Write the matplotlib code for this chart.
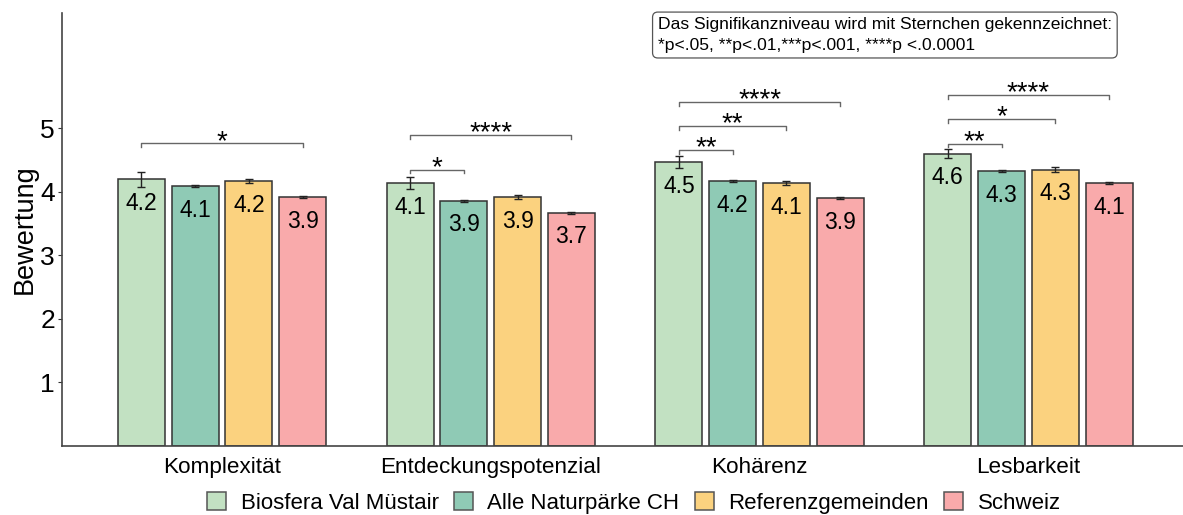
import matplotlib
matplotlib.use('Agg')
import matplotlib.pyplot as plt
import numpy as np

plt.rcParams['font.family'] = ['Liberation Sans', 'DejaVu Sans']

categories = ['Komplexität', 'Entdeckungspotenzial', 'Kohärenz', 'Lesbarkeit']
groups = ['Biosfera Val Müstair', 'Alle Naturpärke CH', 'Referenzgemeinden', 'Schweiz']
colors = ['#c2e1c2', '#8fcab5', '#fbd27f', '#f9aaab']

# mean values per group (rows) and category (columns)
means = [
    [4.20, 4.14, 4.47, 4.60],
    [4.09, 3.86, 4.17, 4.33],
    [4.17, 3.92, 4.14, 4.35],
    [3.92, 3.67, 3.90, 4.14],
]
labels = [
    ['4.2', '4.1', '4.5', '4.6'],
    ['4.1', '3.9', '4.2', '4.3'],
    ['4.2', '3.9', '4.1', '4.3'],
    ['3.9', '3.7', '3.9', '4.1'],
]
errors = [
    [0.12, 0.10, 0.10, 0.07],
    [0.015, 0.015, 0.015, 0.015],
    [0.035, 0.035, 0.035, 0.035],
    [0.015, 0.015, 0.015, 0.015],
]

# significance brackets: (category index, group a, group b, height, stars)
brackets = [
    (0, 0, 3, 4.77, '*'),
    (1, 0, 1, 4.35, '*'),
    (1, 0, 3, 4.90, '****'),
    (2, 0, 1, 4.66, '**'),
    (2, 0, 2, 5.04, '**'),
    (2, 0, 3, 5.42, '****'),
    (3, 0, 1, 4.76, '**'),
    (3, 0, 2, 5.15, '*'),
    (3, 0, 3, 5.53, '****'),
]

note = ('Das Signifikanzniveau wird mit Sternchen gekennzeichnet:\n'
        '*p<.05, **p<.01,***p<.001, ****p <.0.0001')

fig = plt.figure(figsize=(11.83, 5.15), dpi=100)
ax = fig.add_axes([62 / 1183, 1 - 445.5 / 515, (1183 - 62) / 1183, (445.5 - 13) / 515])

x = np.arange(1, len(categories) + 1)
offsets = [-0.3, -0.1, 0.1, 0.3]
width = 0.175

for i, grp in enumerate(groups):
    xs = x + offsets[i]
    ax.bar(xs, means[i], width=width, color=colors[i], edgecolor='#333333',
           linewidth=1.1, label=grp, zorder=2)
    ax.errorbar(xs, means[i], yerr=errors[i], fmt='none', ecolor='#222222',
                elinewidth=1.0, capsize=3, capthick=1.0, zorder=3)
    for xi, m, lab in zip(xs, means[i], labels[i]):
        ax.text(xi, m - 0.38, lab, ha='center', va='center', fontsize=16.5, zorder=4)

tip = 0.06
for ci, a, b, h, stars in brackets:
    x0 = x[ci] + offsets[a]
    x1 = x[ci] + offsets[b]
    ax.plot([x0, x0, x1, x1], [h - tip, h, h, h - tip], color='#666666', lw=1.0)
    ax.text((x0 + x1) / 2, h - 0.09, stars, ha='center', va='baseline', fontsize=20)

ax.text(0.5315, 0.990, note, transform=ax.transAxes, ha='left', va='top',
        fontsize=12.6, linespacing=1.45,
        bbox=dict(boxstyle='round,pad=0.3,rounding_size=0.3', facecolor='white',
                  edgecolor='#555555', lw=0.9))

ax.set_xlim(0.405, 4.575)
ax.set_ylim(0, 6.82)
ax.set_yticks([1, 2, 3, 4, 5])
ax.set_xticks(x)
ax.set_xticklabels(categories, fontsize=16.2)
ax.tick_params(axis='y', labelsize=19, length=3, color='#333333', pad=2)
ax.tick_params(axis='x', length=0, pad=8)
ax.set_ylabel('Bewertung', fontsize=19.5, labelpad=2)
for s in ['top', 'right']:
    ax.spines[s].set_visible(False)
for s in ['left', 'bottom']:
    ax.spines[s].set_color('#444444')
    ax.spines[s].set_linewidth(1.2)

leg = fig.legend(loc='lower center', bbox_to_anchor=(0.536, -0.036), ncol=4, frameon=False,
                 fontsize=16, handlelength=0.85, handleheight=0.85, handletextpad=0.65,
                 columnspacing=0.7)
for h in leg.legend_handles:
    h.set_edgecolor('#555555')

fig.savefig('out.png', dpi=100)
